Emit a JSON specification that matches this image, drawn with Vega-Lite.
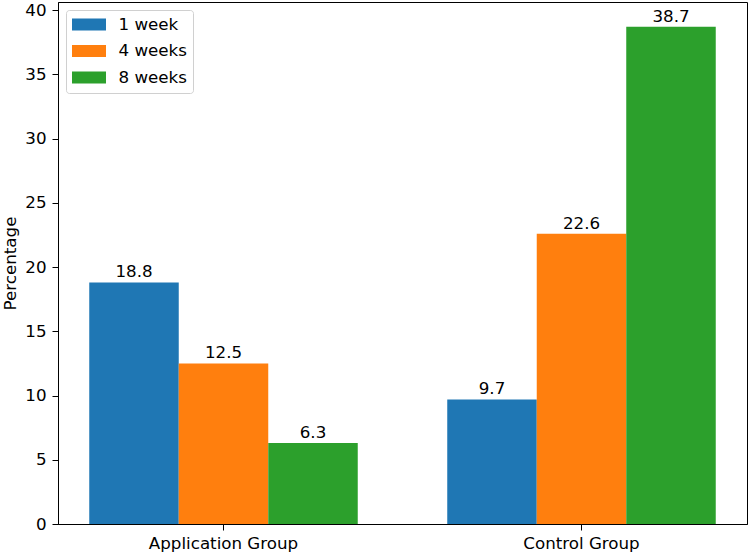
{
  "$schema": "https://vega.github.io/schema/vega-lite/v6.json",
  "width": 689,
  "height": 522,
  "autosize": "none",
  "padding": {"left": 58, "top": 2, "right": 3, "bottom": 30},
  "background": "white",
  "config": {
    "font": "DejaVu Sans",
    "view": {"stroke": "black", "strokeWidth": 1},
    "axis": {
      "domainColor": "black",
      "tickColor": "black",
      "tickSize": 6,
      "labelColor": "black",
      "labelFontSize": 16.7,
      "titleFontSize": 16.7,
      "titleFontWeight": "normal",
      "titleColor": "black",
      "grid": false
    },
    "legend": {
      "orient": "none",
      "legendX": 8,
      "legendY": 8,
      "fillColor": "white",
      "strokeColor": "#d0d0d0",
      "cornerRadius": 3,
      "padding": 6,
      "symbolType": "M-2,-0.7H2V0.7H-2Z",
      "symbolSize": 289,
      "symbolOffset": 8.5,
      "symbolStrokeWidth": 0,
      "labelFontSize": 16.7,
      "labelColor": "black",
      "labelOffset": 21,
      "rowPadding": 8.5
    }
  },
  "data": {
    "values": [
      {"group": "Application Group", "period": "1 week", "value": 18.8},
      {"group": "Application Group", "period": "4 weeks", "value": 12.5},
      {"group": "Application Group", "period": "8 weeks", "value": 6.3},
      {"group": "Control Group", "period": "1 week", "value": 9.7},
      {"group": "Control Group", "period": "4 weeks", "value": 22.6},
      {"group": "Control Group", "period": "8 weeks", "value": 38.7}
    ]
  },
  "encoding": {
    "x": {
      "field": "group",
      "type": "nominal",
      "sort": ["Application Group", "Control Group"],
      "scale": {"paddingInner": 0.25, "paddingOuter": 0.0873},
      "axis": {"title": null, "labelAngle": 0, "labelPadding": 5}
    },
    "xOffset": {
      "field": "period",
      "type": "nominal",
      "sort": ["1 week", "4 weeks", "8 weeks"],
      "scale": {"paddingInner": 0, "paddingOuter": 0}
    },
    "y": {
      "field": "value",
      "type": "quantitative",
      "scale": {"domain": [0, 40.635], "nice": false},
      "axis": {"title": "Percentage", "values": [0, 5, 10, 15, 20, 25, 30, 35, 40], "labelPadding": 6, "titlePadding": 5}
    }
  },
  "layer": [
    {
      "mark": {"type": "bar"},
      "encoding": {
        "color": {
          "field": "period",
          "type": "nominal",
          "sort": ["1 week", "4 weeks", "8 weeks"],
          "scale": {"domain": ["1 week", "4 weeks", "8 weeks"], "range": ["#1f77b4", "#ff7f0e", "#2ca02c"]},
          "legend": {"title": null}
        }
      }
    },
    {
      "mark": {"type": "text", "baseline": "alphabetic", "dy": -5, "fontSize": 16.7, "color": "black"},
      "encoding": {
        "text": {"field": "value", "type": "quantitative", "format": ".1f"}
      }
    }
  ]
}
